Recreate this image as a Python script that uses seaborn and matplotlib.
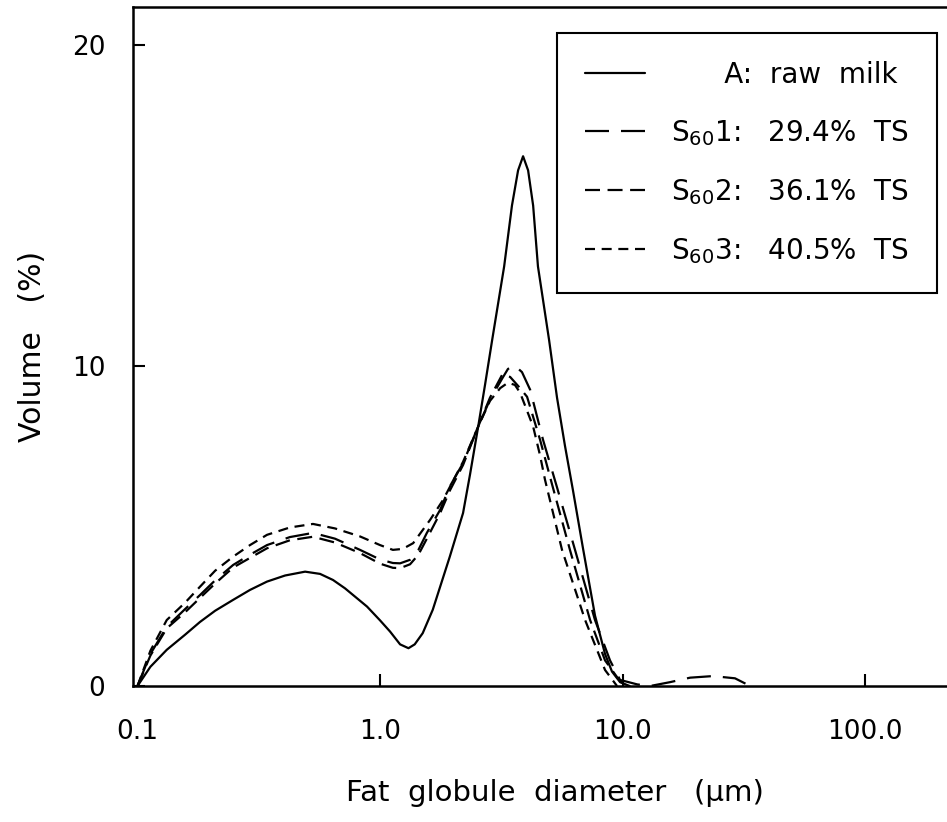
import numpy as np
import pandas as pd
import seaborn as sns
import matplotlib.pyplot as plt
from matplotlib.ticker import NullLocator

# fat globule diameter (um) and volume (%)
raw_d = [0.1, 0.113, 0.132, 0.157, 0.181, 0.209, 0.248, 0.291, 0.342, 0.406, 0.491,
         0.566, 0.640, 0.717, 0.884, 1.0, 1.10, 1.21, 1.31, 1.39, 1.50, 1.65, 1.94,
         2.20, 2.35, 2.54, 2.71, 2.90, 3.25, 3.50, 3.71, 3.89, 4.08, 4.28, 4.48, 4.98,
         5.37, 5.79, 6.25, 6.87, 7.70, 8.47, 9.05, 9.77, 10.7]
raw_v = [0, 0.6, 1.13, 1.6, 2.0, 2.35, 2.69, 3.0, 3.26, 3.45, 3.57,
         3.5, 3.31, 3.05, 2.48, 2.05, 1.7, 1.3, 1.18, 1.3, 1.65, 2.38, 4.04,
         5.4, 6.6, 8.1, 9.4, 10.8, 13.1, 15.0, 16.1, 16.54, 16.1, 15.0, 13.1, 10.8,
         9.0, 7.5, 6.1, 4.3, 2.2, 1.0, 0.45, 0.12, 0]

s1_d = [0.1, 0.113, 0.132, 0.157, 0.181, 0.209, 0.248, 0.291, 0.342, 0.425, 0.529,
        0.652, 0.827, 1.0, 1.13, 1.21, 1.33, 1.44, 1.56, 1.77, 1.94, 2.20, 2.54, 2.84,
        3.19, 3.37, 3.60, 3.85, 4.16, 4.70, 5.37, 6.37, 7.70, 8.88, 9.77, 11.5, 13.0,
        15.7, 19.0, 23.6, 29.1, 33.6]
s1_v = [0, 1.0, 1.85, 2.4, 2.84, 3.3, 3.78, 4.1, 4.4, 4.65, 4.78,
        4.6, 4.25, 3.95, 3.84, 3.83, 3.94, 4.25, 4.78, 5.5, 6.23, 6.96, 8.1, 8.94,
        9.6, 9.9, 10.0, 9.8, 9.25, 7.69, 6.2, 4.25, 2.06, 0.8, 0.19, 0.05, 0,
        0.12, 0.26, 0.31, 0.24, 0]

s2_d = [0.1, 0.113, 0.132, 0.157, 0.181, 0.209, 0.248, 0.291, 0.342, 0.425, 0.529,
        0.652, 0.827, 1.0, 1.13, 1.21, 1.33, 1.44, 1.56, 1.77, 1.94, 2.20, 2.54, 2.84,
        3.19, 3.44, 3.78, 4.04, 4.57, 5.12, 6.07, 7.35, 8.47, 9.49, 10.2]
s2_v = [0, 0.95, 1.8, 2.3, 2.75, 3.2, 3.7, 4.0, 4.3, 4.55, 4.66,
        4.48, 4.15, 3.82, 3.69, 3.68, 3.8, 4.1, 4.6, 5.4, 6.1, 6.9, 8.1, 9.0,
        9.72, 9.65, 9.3, 9.03, 7.69, 6.3, 4.25, 2.06, 0.8, 0.28, 0]

s3_d = [0.1, 0.113, 0.132, 0.157, 0.181, 0.209, 0.248, 0.291, 0.342, 0.425, 0.529,
        0.652, 0.827, 1.0, 1.13, 1.24, 1.37, 1.61, 1.82, 2.20, 2.54, 2.84, 3.13, 3.37,
        3.60, 3.78, 4.28, 4.57, 4.79, 5.63, 7.01, 8.47, 9.49]
s3_v = [0, 1.1, 2.06, 2.6, 3.1, 3.6, 4.04, 4.4, 4.72, 4.95, 5.06,
        4.92, 4.67, 4.4, 4.25, 4.28, 4.46, 5.19, 5.81, 7.0, 8.1, 8.9, 9.3, 9.47,
        9.4, 9.16, 8.1, 7.2, 6.44, 4.25, 2.06, 0.5, 0]

labels = ['      A:  raw  milk',
          'S$_{60}$1:   29.4%  TS',
          'S$_{60}$2:   36.1%  TS',
          'S$_{60}$3:   40.5%  TS']
styles = ['-', (0, (10.8, 5.4)), (0, (6.75, 3.4)), (0, (4.5, 3.0))]

x_ticks = [0.1, 1, 10, 100]
x_tick_labels = ['0.1', '1.0', '10.0', '100.0']
y_ticks = [0, 10, 20]

sns.set_style('ticks')
plt.rcParams['font.family'] = ['DejaVu Sans']
plt.rcParams['text.color'] = 'black'
plt.rcParams['axes.labelcolor'] = 'black'
plt.rcParams['xtick.color'] = 'black'
plt.rcParams['ytick.color'] = 'black'

df = pd.concat([
    pd.DataFrame({'d': d, 'v': v, 'sample': lab})
    for d, v, lab in zip([raw_d, s1_d, s2_d, s3_d], [raw_v, s1_v, s2_v, s3_v], labels)
])

fig = plt.figure(figsize=(9.47, 8.22), dpi=100)
ax = fig.add_axes([133 / 947, 136 / 822, 822 / 947, 679 / 822])

for lab, ls in zip(labels, styles):
    sub = df[df['sample'] == lab]
    sns.lineplot(data=sub, x='d', y='v', color='black', linewidth=1.6,
                 linestyle=ls, label=lab, sort=False, estimator=None, ax=ax)

ax.set_xscale('log')
ax.set_xlim(0.0958, 235)
ax.set_ylim(0, 21.2)
ax.set_xticks(x_ticks, x_tick_labels)
ax.xaxis.set_minor_locator(NullLocator())
ax.set_yticks(y_ticks, [str(t) for t in y_ticks])
ax.tick_params(direction='in', length=8.5, width=1.5, labelsize=19, color='black')
ax.tick_params(axis='x', pad=24)
ax.tick_params(axis='y', pad=20)
ax.xaxis.get_major_ticks()[0].tick1line.set_visible(False)

for sp in ax.spines.values():
    sp.set_linewidth(1.8)
    sp.set_color('black')

ax.set_xlabel('Fat  globule  diameter   (µm)', fontsize=21)
ax.xaxis.set_label_coords(0.5134, -0.137)
ax.set_ylabel('Volume   (%)', fontsize=21.5)
ax.yaxis.set_label_coords(-0.1046, 0.5)

handles, labs = ax.get_legend_handles_labels()
leg = ax.legend(handles, labs, loc='upper right', bbox_to_anchor=(937 / 947, 1 - 33 / 822),
                bbox_transform=fig.transFigure, borderaxespad=0, fancybox=False,
                framealpha=1, edgecolor='black', fontsize=20, handlelength=2.16,
                handletextpad=0.95, labelspacing=1.05, borderpad=1.0)
leg.get_frame().set_linewidth(1.5)

fig.savefig('out.png', dpi=100)
